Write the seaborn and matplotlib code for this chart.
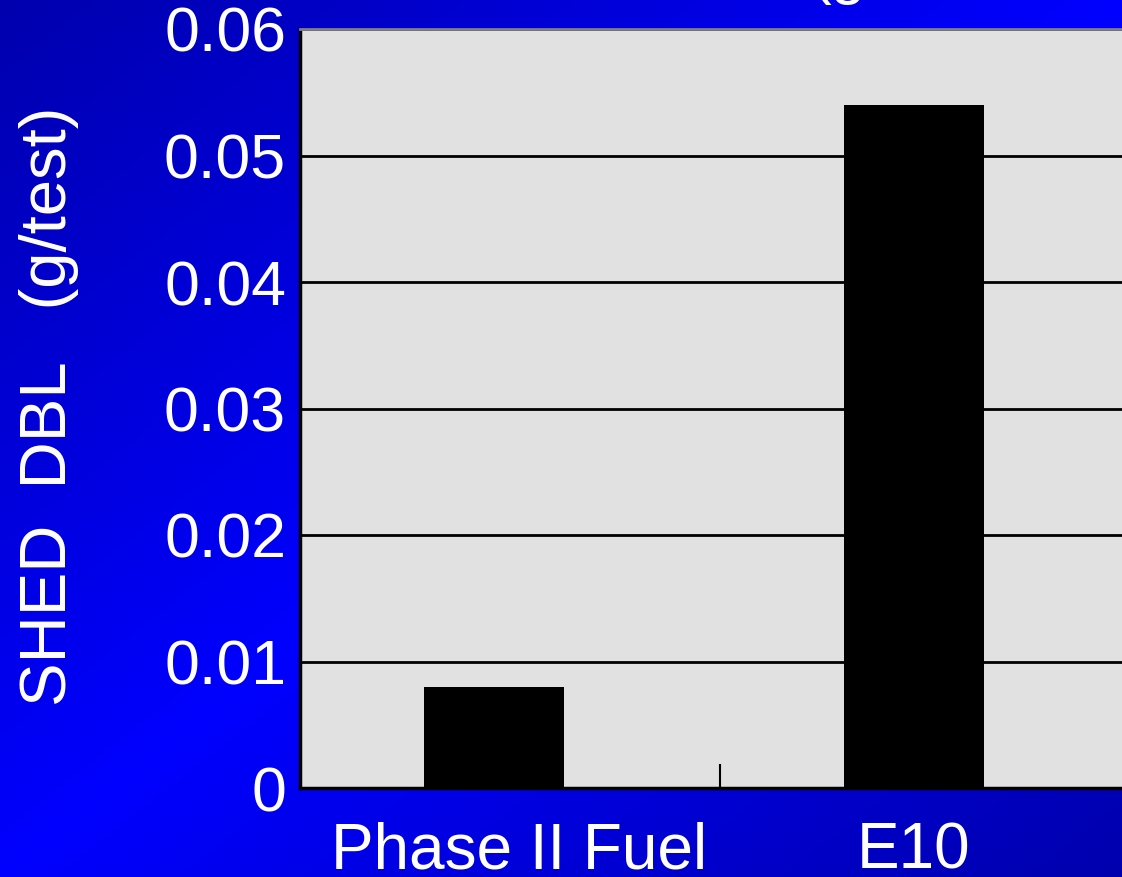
import numpy as np
import matplotlib
matplotlib.use("Agg")
import matplotlib.pyplot as plt
import matplotlib.transforms as mtransforms
import seaborn as sns

categories = ["Phase II Fuel", "E10"]
values = [0.008, 0.054]
yticks = [0, 0.01, 0.02, 0.03, 0.04, 0.05, 0.06]
ytick_labels = ["0", "0.01", "0.02", "0.03", "0.04", "0.05", "0.06"]
ylabel = "SHED  DBL   (g/test)"
title_fragment = "(g"

sns.set_theme(style="white")
plt.rcParams['font.family'] = ['Liberation Sans', 'DejaVu Sans']

W, H = 1122, 877
fig = plt.figure(figsize=(W / 100, H / 100), dpi=100)

# background gradient
bg = fig.add_axes([0, 0, 1, 1], zorder=-10)
u = np.linspace(0, 1, 300)[None, :]
v = np.linspace(0, 1, 240)[:, None]
blue = 1 - 0.32 * np.abs(u + v - 1)
img = np.zeros((240, 300, 3))
img[..., 2] = blue
bg.imshow(img, aspect='auto', extent=[0, 1, 1, 0], interpolation='bilinear')
bg.set_axis_off()

ax = fig.add_axes([300 / W, (H - 788) / H, 840 / W, 759 / H])
ax.set_facecolor('#e1e1e1')
sns.barplot(x=categories, y=values, color='black', width=0.335, ax=ax,
            saturation=1, edgecolor='black', linewidth=0)

ax.set_xlim(-0.462, 1.538)
ax.set_ylim(0, 0.06)
ax.set_yticks(yticks)
ax.set_yticklabels(ytick_labels)
ax.set_axisbelow(True)
ax.yaxis.grid(True, color='black', linewidth=2)
ax.xaxis.grid(False)

mid = sum(ax.get_xlim()) / 2
ax.set_xticks([mid], minor=True)
ax.tick_params(axis='x', which='minor', direction='in', length=17, width=1.5,
               color='black', bottom=True)
ax.tick_params(axis='x', which='major', length=0, pad=24, labelsize=46,
               labelcolor='white')
ax.tick_params(axis='y', length=0, pad=10, labelsize=45, labelcolor='white')

# first category label sits slightly right of its bar in the reference
first = ax.get_xticklabels()[0]
first.set_transform(first.get_transform() +
                    mtransforms.ScaledTranslation(0.25, 0, fig.dpi_scale_trans))

for s in ['left', 'bottom']:
    ax.spines[s].set_color('black')
    ax.spines[s].set_linewidth(2.5)
ax.spines['top'].set_color('#808080')
ax.spines['top'].set_linewidth(2)
ax.spines['right'].set_visible(False)

ax.set_xlabel("")
ax.set_ylabel(ylabel, fontsize=47, color='white')
ax.yaxis.set_label_coords(-0.263, 0.503)

fig.text(810 / W, 1.009, title_fragment, fontsize=45, color='white',
         ha='left', va='baseline')

fig.savefig("out.png", dpi=100)
